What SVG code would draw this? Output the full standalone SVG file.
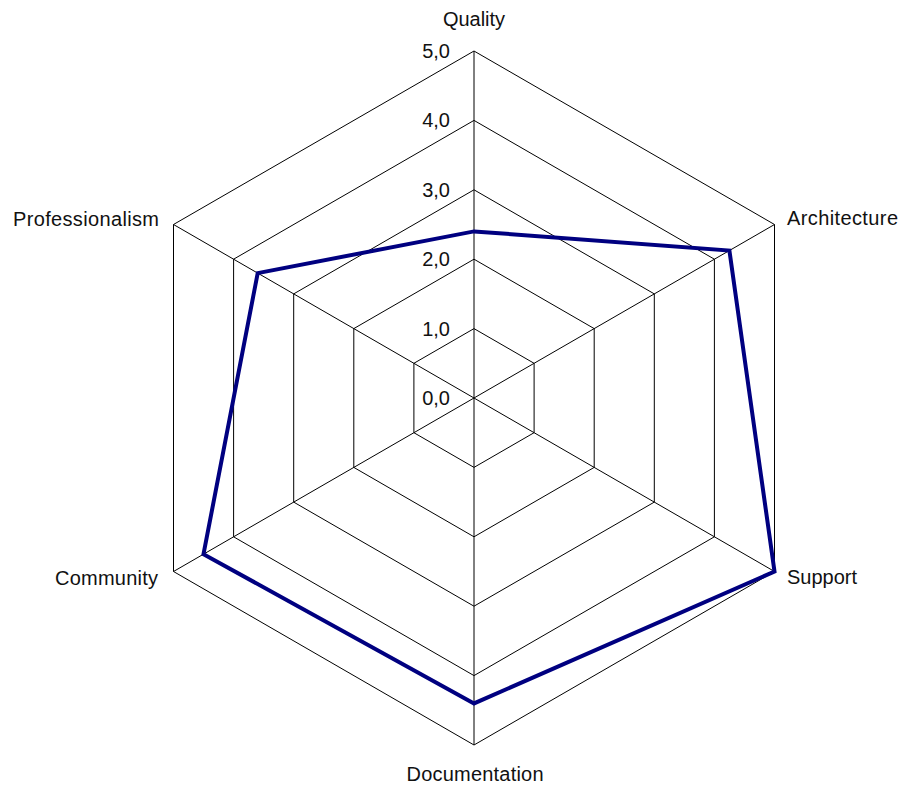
<svg xmlns="http://www.w3.org/2000/svg" width="901" height="785" viewBox="0 0 901 785">
<style>
.grid{fill:none;stroke:#000;stroke-width:1}
.axis{stroke:#000;stroke-width:1}
.data{fill:none;stroke:#000080;stroke-width:4;stroke-linejoin:miter}
.lbl{font-family:"Liberation Sans",Arial,sans-serif;font-size:20px;fill:#111}
.tick{font-family:"Liberation Sans",Arial,sans-serif;font-size:20px;fill:#111;text-anchor:end}
</style>
<rect width="901" height="785" fill="#fff"/>
<g id="grid">
<polygon class="grid" points="474,328.6 534.1,363.3 534.1,432.7 474,467.4 413.9,432.7 413.9,363.3"/>
<polygon class="grid" points="474,259.2 594.2,328.6 594.2,467.4 474,536.8 353.8,467.4 353.8,328.6"/>
<polygon class="grid" points="474,189.8 654.3,293.9 654.3,502.1 474,606.2 293.7,502.1 293.7,293.9"/>
<polygon class="grid" points="474,120.4 714.4,259.2 714.4,536.8 474,675.6 233.6,536.8 233.6,259.2"/>
<polygon class="grid" points="474,51 774.5,224.5 774.5,571.5 474,745 173.5,571.5 173.5,224.5"/>
</g>
<g id="connectors">
<line class="axis" x1="474" y1="398" x2="474" y2="51"/>
<line class="axis" x1="474" y1="398" x2="774.5" y2="224.5"/>
<line class="axis" x1="474" y1="398" x2="774.5" y2="571.5"/>
<line class="axis" x1="474" y1="398" x2="474" y2="745"/>
<line class="axis" x1="474" y1="398" x2="173.5" y2="571.5"/>
<line class="axis" x1="474" y1="398" x2="173.5" y2="224.5"/>
</g>
<g id="series">
<polygon class="data" points="474,231.4 729.4,250.5 774.5,571.5 474,703.4 203.5,554.2 257.7,273.1"/>
</g>
<g id="ticks">
<text class="tick" x="450" y="405">0,0</text>
<text class="tick" x="450" y="335.6">1,0</text>
<text class="tick" x="450" y="266.2">2,0</text>
<text class="tick" x="450" y="196.8">3,0</text>
<text class="tick" x="450" y="127.4">4,0</text>
<text class="tick" x="450" y="58">5,0</text>
</g>
<g id="node-quality"><text class="lbl" x="474" y="26" text-anchor="middle">Quality</text></g>
<g id="node-architecture"><text class="lbl" x="787" y="225" textLength="111" lengthAdjust="spacing">Architecture</text></g>
<g id="node-support"><text class="lbl" x="787" y="584">Support</text></g>
<g id="node-documentation"><text class="lbl" x="475" y="781" text-anchor="middle" textLength="137" lengthAdjust="spacing">Documentation</text></g>
<g id="node-community"><text class="lbl" x="55" y="585" textLength="103" lengthAdjust="spacing">Community</text></g>
<g id="node-professionalism"><text class="lbl" x="13" y="226" textLength="146" lengthAdjust="spacing">Professionalism</text></g>
</svg>
